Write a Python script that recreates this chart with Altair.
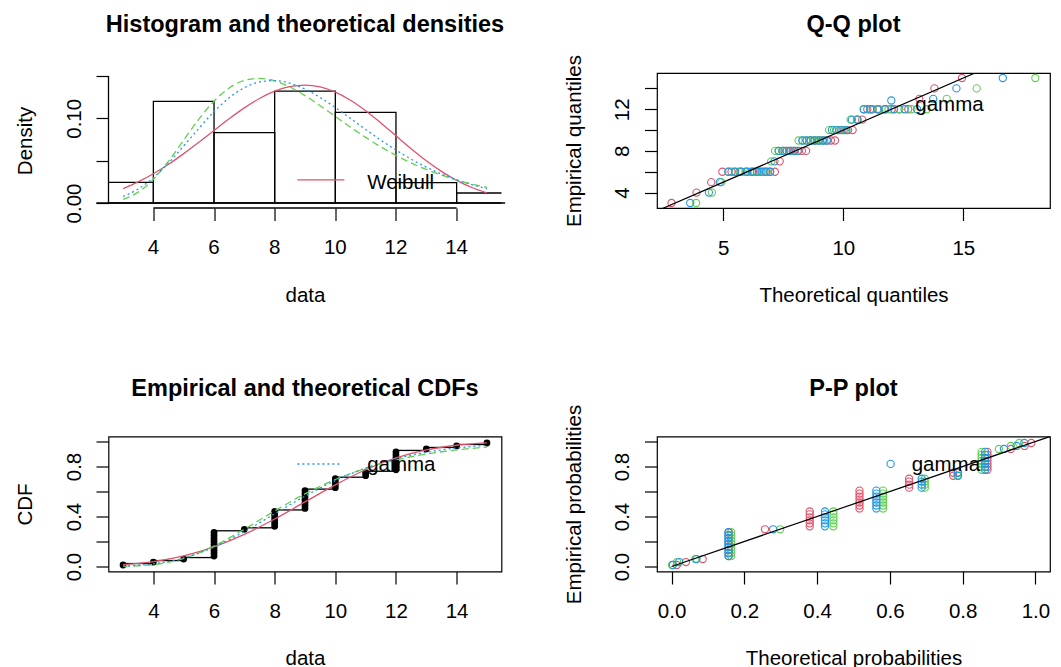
import altair as alt
import pandas as pd

# ---------------- data ----------------
DATA_VALUES = [3, 4, 5, 6, 7, 8, 9, 10, 11, 12, 13, 14, 15]
DATA_COUNTS = [1, 1, 1, 9, 1, 6, 7, 4, 2, 7, 1, 1, 1]

HIST_START = [2, 4, 6, 8, 10, 12, 14]
HIST_END = [4, 6, 8, 10, 12, 14, 16]
HIST_DENSITY = [0.0244, 0.1200, 0.0830, 0.1320, 0.1070, 0.0240, 0.0118]

DENS_X = [3.0, 3.5, 4.0, 4.5, 5.0, 5.5, 6.0, 6.5, 7.0, 7.5, 8.0, 8.5, 9.0,
          9.5, 10.0, 10.5, 11.0, 11.5, 12.0, 12.5, 13.0, 13.5, 14.0, 14.5, 15.0]
DENS_WEIBULL = [0.0169, 0.0249, 0.0345, 0.0457, 0.0583, 0.0718, 0.0857, 0.0995,
                0.1123, 0.1234, 0.1320, 0.1374, 0.1392, 0.1370, 0.1309, 0.1214,
                0.1090, 0.0946, 0.0793, 0.0641, 0.0499, 0.0373, 0.0267, 0.0183, 0.0120]
DENS_LNORM = [0.0043, 0.0128, 0.0281, 0.0495, 0.0743, 0.0990, 0.1202, 0.1358,
              0.1447, 0.1472, 0.1442, 0.1370, 0.1268, 0.1148, 0.1022, 0.0895,
              0.0775, 0.0663, 0.0562, 0.0473, 0.0396, 0.0329, 0.0272, 0.0224, 0.0184]
DENS_GAMMA = [0.0077, 0.0166, 0.0299, 0.0473, 0.0674, 0.0882, 0.1078, 0.1242,
              0.1361, 0.1429, 0.1445, 0.1414, 0.1345, 0.1246, 0.1127, 0.0999,
              0.0869, 0.0742, 0.0625, 0.0518, 0.0423, 0.0342, 0.0273, 0.0216, 0.0169]

CDF_X = [3, 4, 5, 6, 7, 8, 9, 10, 11, 12, 13, 14, 15]
CDF_WEIBULL = [0.0144, 0.0395, 0.0855, 0.1574, 0.2567, 0.3797, 0.5165, 0.6529,
               0.7738, 0.8682, 0.9325, 0.9701, 0.9888]
CDF_LNORM = [0.0013, 0.0153, 0.0653, 0.1638, 0.2984, 0.4447, 0.5812, 0.6959,
             0.7855, 0.8520, 0.8995, 0.9326, 0.9551]
CDF_GAMMA = [0.0037, 0.0211, 0.0686, 0.1561, 0.2793, 0.4215, 0.5628, 0.6874,
             0.7874, 0.8617, 0.9136, 0.9479, 0.9695]

QQ_WEIBULL = [2.845, 3.885, 4.499, 4.962, 5.344, 5.675, 5.969, 6.238, 6.487, 6.720,
              6.940, 7.150, 7.351, 7.546, 7.735, 7.919, 8.099, 8.276, 8.451, 8.624,
              8.796, 8.967, 9.138, 9.310, 9.483, 9.657, 9.834, 10.015, 10.199, 10.388,
              10.584, 10.787, 11.000, 11.225, 11.465, 11.725, 12.010, 12.332, 12.706,
              13.167, 13.796, 14.944]
QQ_LNORM = [3.870, 4.526, 4.920, 5.226, 5.484, 5.714, 5.925, 6.121, 6.308, 6.485,
            6.661, 6.830, 6.996, 7.158, 7.321, 7.483, 7.644, 7.808, 7.970, 8.137,
            8.305, 8.476, 8.651, 8.833, 9.016, 9.209, 9.407, 9.615, 9.835, 10.063,
            10.307, 10.568, 10.854, 11.159, 11.501, 11.881, 12.320, 12.837, 13.471,
            14.308, 15.555, 18.000]
QQ_GAMMA = [3.623, 4.401, 4.858, 5.207, 5.498, 5.755, 5.988, 6.202, 6.404, 6.595,
            6.782, 6.960, 7.133, 7.302, 7.472, 7.638, 7.801, 7.967, 8.130, 8.296,
            8.462, 8.631, 8.802, 8.977, 9.153, 9.337, 9.524, 9.720, 9.924, 10.134,
            10.357, 10.593, 10.849, 11.120, 11.418, 11.747, 12.120, 12.553, 13.074,
            13.745, 14.712, 16.644]

HIST_XTICKS = [4, 6, 8, 10, 12, 14]
HIST_YTICKS = [0, 0.05, 0.10, 0.15]
QQ_XTICKS = [5, 10, 15]
QQ_YTICKS = [4, 6, 8, 10, 12, 14]
PROB_TICKS = [0, 0.2, 0.4, 0.6, 0.8, 1.0]
IDENTITY = [0, 20]
HIST_BASELINE = [2.12, 15.6]   # extent of the zero line under the histogram

HIST_XDOM, HIST_YDOM = [2.52, 15.48], [-0.0059, 0.1535]
QQ_XDOM, QQ_YDOM = [2.24, 18.61], [2.52, 15.48]
CDF_XDOM, CDF_YDOM = [2.52, 15.48], [-0.04, 1.04]
PP_DOM = [-0.04, 1.04]

TITLES = ["Histogram and theoretical densities", "Q-Q plot",
          "Empirical and theoretical CDFs", "P-P plot"]

# legends (label, position)
LEG_HIST = {"label": "Weibull", "x1": 8.75, "x2": 10.3, "line_y": 0.0274, "tx": 11.05, "ty": 0.0168}
LEG_CDF = {"label": "gamma", "x1": 8.75, "x2": 10.2, "line_y": 0.82, "tx": 11.05, "ty": 0.766}
LEG_QQ = {"label": "gamma", "sx": 12.0, "sy": 12.84, "tx": 13.0, "ty": 11.88}
LEG_PP = {"label": "gamma", "sx": 0.602, "sy": 0.821, "tx": 0.66, "ty": 0.762}

# ---------------- style ----------------
FONT = "Liberation Sans"
FS = 20.5
TFS = 23.5
RED, GREEN, BLUE = "#DF536B", "#61D04F", "#2297E6"
W, H = 393, 135
TICK = 12.5
LW = 1.3
LABEL_BASE = 46       # px from plot bottom to x tick-label baseline
TITLE_BASE = 93       # px from plot bottom to x title baseline

def x_axis(title, values, fmt, labels=True, expr=None):
    kw = dict(title=title, values=values, format=fmt, domain=False, grid=False,
              ticks=True, tickSize=TICK, tickWidth=1.2, tickColor="black",
              labels=labels,
              labelFont=FONT, labelFontSize=FS, labelColor="black",
              labelBaseline="alphabetic", labelAlign="center",
              labelPadding=LABEL_BASE - TICK,
              labelFlush=False, labelOverlap=False,
              titleFont=FONT, titleFontSize=FS, titleFontWeight="normal",
              titleColor="black", titleBaseline="alphabetic", titleAlign="center",
              titleX=W / 2, titleY=TITLE_BASE)
    if expr:
        kw["labelExpr"] = expr
    return alt.Axis(**kw)

def y_axis(title, values, fmt, expr=None):
    kw = dict(title=title, values=values, format=fmt, domain=False, grid=False,
              ticks=True, tickSize=TICK, tickWidth=1.2, tickColor="black",
              labelFont=FONT, labelFontSize=FS, labelColor="black",
              labelAngle=270, labelAlign="center", labelBaseline="alphabetic",
              labelPadding=16.0, labelFlush=False, labelOverlap=False,
              titleFont=FONT, titleFontSize=FS, titleFontWeight="normal",
              titleColor="black", titleAngle=270, titleAlign="center",
              titleBaseline="alphabetic", titleX=-77, titleY=H / 2)
    if expr:
        kw["labelExpr"] = expr
    return alt.Axis(**kw)

def make_enc(xdom, ydom, xax, yax, xtitle, ytitle):
    xs = alt.Scale(domain=xdom, nice=False, zero=False)
    ys = alt.Scale(domain=ydom, nice=False, zero=False)
    def fx(field):
        return alt.X(field, type="quantitative", scale=xs, axis=xax, title=xtitle)
    def fy(field):
        return alt.Y(field, type="quantitative", scale=ys, axis=yax, title=ytitle)
    return fx, fy

def title_layer(text):
    return alt.Chart(pd.DataFrame({"t": [text]})).mark_text(
        font=FONT, fontSize=TFS, fontWeight="bold", color="black",
        align="center", baseline="alphabetic").encode(
        x=alt.value(W / 2), y=alt.value(-41), text="t:N")

def text_layer(df, fx, fy):
    return alt.Chart(df).mark_text(align="left", baseline="alphabetic", font=FONT,
                                   fontSize=FS, color="black").encode(
        x=fx("tx"), y=fy("ty"), text="label:N")

# ---------------- tables ----------------
obs = []
for v, c in zip(DATA_VALUES, DATA_COUNTS):
    obs += [v] * c
obs_df = pd.DataFrame({
    "obs": obs,
    "qw": QQ_WEIBULL, "ql": QQ_LNORM, "qg": QQ_GAMMA,
    "cw": [CDF_WEIBULL[CDF_X.index(v)] for v in obs],
    "cl": [CDF_LNORM[CDF_X.index(v)] for v in obs],
    "cg": [CDF_GAMMA[CDF_X.index(v)] for v in obs],
})
counts_df = pd.DataFrame({"value": DATA_VALUES, "count": DATA_COUNTS})
hist_df = pd.DataFrame({"start": HIST_START, "end": HIST_END, "density": HIST_DENSITY})
dens_df = pd.DataFrame({"x": DENS_X, "w": DENS_WEIBULL, "l": DENS_LNORM, "g": DENS_GAMMA})
cdf_df = pd.DataFrame({"x": CDF_X, "w": CDF_WEIBULL, "l": CDF_LNORM, "g": CDF_GAMMA})
ident_df = pd.DataFrame({"v": IDENTITY})

def with_ppoints(chart):
    return chart.transform_window(
        window=[alt.WindowFieldDef(op="row_number", **{"as": "rank"})],
        sort=[alt.SortField("obs", order="ascending")],
    ).transform_joinaggregate(
        joinaggregate=[alt.JoinAggregateFieldDef(op="count", field="obs", **{"as": "n"})]
    ).transform_calculate(p="(datum.rank - 0.5) / datum.n")

BOX = alt.ViewBackground(stroke="black", strokeWidth=1.2)
NOBOX = alt.ViewBackground(stroke="transparent")

def pts(chart, color):
    return chart.mark_point(shape="circle", filled=False, size=52, strokeWidth=1.1,
                            color=color, opacity=1, clip=True)

# ---------------- panel 1: histogram + densities ----------------
hx, hy = make_enc(HIST_XDOM, HIST_YDOM,
                  x_axis("data", HIST_XTICKS, "d", labels=False),
                  y_axis("Density", HIST_YTICKS, ".2f",
                         expr="datum.value < 0.025 ? '0.00' : (abs(datum.value - 0.1) < 0.001 ? '0.10' : '')"),
                  "data", "Density")
bars = alt.Chart(hist_df).transform_calculate(zero="0").mark_rect(
    fill="transparent", stroke="black", strokeWidth=LW, clip=True).encode(
    x=hx("start"), x2="end:Q", y=hy("density"), y2="zero:Q")
base0 = alt.Chart(pd.DataFrame({"a": [HIST_BASELINE[0]], "b": [HIST_BASELINE[1]], "y": [0]})).mark_rule(
    color="black", strokeWidth=LW).encode(x=hx("a"), x2="b:Q", y=hy("y"))
d_w = alt.Chart(dens_df).mark_line(color=RED, strokeWidth=LW, interpolate="monotone").encode(x=hx("x"), y=hy("w"))
d_l = alt.Chart(dens_df).mark_line(color=GREEN, strokeWidth=LW, strokeDash=[7, 4], interpolate="monotone").encode(x=hx("x"), y=hy("l"))
d_g = alt.Chart(dens_df).mark_line(color=BLUE, strokeWidth=LW, strokeDash=[2, 3], interpolate="monotone").encode(x=hx("x"), y=hy("g"))
# axis lines drawn from first to last tick, as R does
xline = alt.Chart(pd.DataFrame({"a": [HIST_XTICKS[0]], "b": [HIST_XTICKS[-1]], "y": [HIST_YDOM[0]]})).mark_rule(
    color="black", strokeWidth=LW).encode(x=hx("a"), x2="b:Q", y=hy("y"))
yline = alt.Chart(pd.DataFrame({"a": [HIST_YTICKS[0]], "b": [HIST_YTICKS[-1]], "x": [HIST_XDOM[0]]})).mark_rule(
    color="black", strokeWidth=LW).encode(y=hy("a"), y2="b:Q", x=hx("x"))
# x tick labels of the histogram panel, one per tick value
xlabels = alt.Chart(pd.DataFrame({"tick": HIST_XTICKS})).mark_text(
    font=FONT, fontSize=FS, color="black", align="center", baseline="alphabetic").encode(
    x=hx("tick"), y=alt.value(H + LABEL_BASE), text=alt.Text("tick:Q", format="d"))
leg_h = pd.DataFrame([LEG_HIST])
leg_h_line = alt.Chart(leg_h).mark_rule(color=RED, strokeWidth=LW).encode(x=hx("x1"), x2="x2:Q", y=hy("line_y"))
p1 = alt.layer(bars, base0, d_w, d_l, d_g, xline, yline, xlabels, leg_h_line,
               text_layer(leg_h, hx, hy), title_layer(TITLES[0])).properties(
    width=W, height=H, view=NOBOX)

# ---------------- panel 2: Q-Q plot ----------------
qx, qy = make_enc(QQ_XDOM, QQ_YDOM,
                  x_axis("Theoretical quantiles", QQ_XTICKS, "d"),
                  y_axis("Empirical quantiles", QQ_YTICKS, "d", expr="datum.value % 4 == 0 ? datum.label : ''"),
                  "Theoretical quantiles", "Empirical quantiles")
q_w = pts(alt.Chart(obs_df), RED).encode(x=qx("qw"), y=qy("obs"))
q_l = pts(alt.Chart(obs_df), GREEN).encode(x=qx("ql"), y=qy("obs"))
q_g = pts(alt.Chart(obs_df), BLUE).encode(x=qx("qg"), y=qy("obs"))
q_id = alt.Chart(ident_df).mark_line(color="black", strokeWidth=1.2, clip=True).encode(x=qx("v"), y=qy("v"))
leg_q = pd.DataFrame([LEG_QQ])
leg_q_sym = pts(alt.Chart(leg_q), BLUE).encode(x=qx("sx"), y=qy("sy"))
p2 = alt.layer(q_w, q_l, q_g, q_id, leg_q_sym, text_layer(leg_q, qx, qy),
               title_layer(TITLES[1])).properties(width=W, height=H, view=BOX)

# ---------------- panel 3: CDFs ----------------
cx, cy = make_enc(CDF_XDOM, CDF_YDOM,
                  x_axis("data", HIST_XTICKS, "d"),
                  y_axis("CDF", PROB_TICKS, ".1f", expr="round(datum.value * 10) % 4 == 0 ? datum.label : ''"),
                  "data", "CDF")
steps = alt.Chart(counts_df).transform_joinaggregate(
    joinaggregate=[alt.JoinAggregateFieldDef(op="sum", field="count", **{"as": "total"})]
).transform_window(
    window=[alt.WindowFieldDef(op="sum", field="count", **{"as": "cum"}),
            alt.WindowFieldDef(op="lead", field="value", **{"as": "nxt"})],
    sort=[alt.SortField("value", order="ascending")],
).transform_filter("datum.nxt != null").transform_calculate(
    ecdf="datum.cum / datum.total"
).mark_rule(color="black", strokeWidth=LW).encode(x=cx("value"), x2="nxt:Q", y=cy("ecdf"))
epts = with_ppoints(alt.Chart(obs_df)).mark_circle(size=46, color="black", opacity=1).encode(
    x=cx("obs"), y=cy("p"))
c_w = alt.Chart(cdf_df).mark_line(color=RED, strokeWidth=LW, interpolate="monotone").encode(x=cx("x"), y=cy("w"))
c_l = alt.Chart(cdf_df).mark_line(color=GREEN, strokeWidth=LW, strokeDash=[7, 4], interpolate="monotone").encode(x=cx("x"), y=cy("l"))
c_g = alt.Chart(cdf_df).mark_line(color=BLUE, strokeWidth=LW, strokeDash=[2, 3], interpolate="monotone").encode(x=cx("x"), y=cy("g"))
leg_c = pd.DataFrame([LEG_CDF])
leg_c_line = alt.Chart(leg_c).mark_rule(color=BLUE, strokeWidth=LW, strokeDash=[2, 3]).encode(
    x=cx("x1"), x2="x2:Q", y=cy("line_y"))
p3 = alt.layer(steps, epts, c_w, c_l, c_g, leg_c_line, text_layer(leg_c, cx, cy),
               title_layer(TITLES[2])).properties(width=W, height=H, view=BOX)

# ---------------- panel 4: P-P plot ----------------
px_, py_ = make_enc(PP_DOM, PP_DOM,
                    x_axis("Theoretical probabilities", PROB_TICKS, ".1f"),
                    y_axis("Empirical probabilities", PROB_TICKS, ".1f",
                           expr="round(datum.value * 10) % 4 == 0 ? datum.label : ''"),
                    "Theoretical probabilities", "Empirical probabilities")
pp_w = pts(with_ppoints(alt.Chart(obs_df)), RED).encode(x=px_("cw"), y=py_("p"))
pp_l = pts(with_ppoints(alt.Chart(obs_df)), GREEN).encode(x=px_("cl"), y=py_("p"))
pp_g = pts(with_ppoints(alt.Chart(obs_df)), BLUE).encode(x=px_("cg"), y=py_("p"))
pp_id = alt.Chart(ident_df).mark_line(color="black", strokeWidth=1.2, clip=True).encode(x=px_("v"), y=py_("v"))
leg_p = pd.DataFrame([LEG_PP])
leg_p_sym = pts(alt.Chart(leg_p), BLUE).encode(x=px_("sx"), y=py_("sy"))
p4 = alt.layer(pp_w, pp_l, pp_g, pp_id, leg_p_sym, text_layer(leg_p, px_, py_),
               title_layer(TITLES[3])).properties(width=W, height=H, view=BOX)

chart = alt.concat(p1, p2, p3, p4, columns=2,
                   spacing=alt.RowColnumber(row=228.5, column=155.5),
                   bounds="flush").properties(
    padding={"left": 6.5, "top": 4, "right": 0, "bottom": 0}
).configure(font=FONT)

chart.save("out.html", embed_options={"renderer": "svg", "actions": False})
